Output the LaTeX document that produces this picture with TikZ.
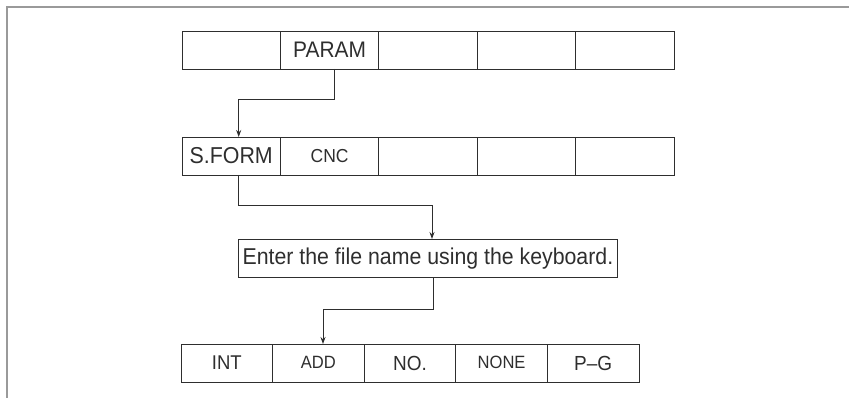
\documentclass[tikz,border=0pt]{standalone}
\usepackage{fontspec}
\setmainfont[FakeStretch=0.93]{Liberation Sans}
\usetikzlibrary{arrows.meta}
\definecolor{ink}{HTML}{2E2E2E}
\definecolor{framegray}{HTML}{9A9A9A}
\begin{document}
\begin{tikzpicture}[x=1pt,y=-1pt,
  cell/.style={draw=ink,line width=0.9pt,minimum height=38pt,inner sep=0pt,outer sep=0pt,text=ink,anchor=north west},
  topcell/.style={cell,minimum width=98.4pt},
  botcell/.style={cell,minimum width=91.6pt},
  conn/.style={draw=ink,line width=0.9pt},
  arr/.style={conn,-{Stealth[length=7pt,width=5pt]}},
  fs/.style={font=\fontsize{#1}{#1}\selectfont}
]
\useasboundingbox (0,0) rectangle (849,398);
\draw[framegray,line width=2.5pt] (7,398) -- (7,7) -- (849,7);
% top row
\node[topcell] (t1) at (182,31) {};
\node[topcell,fs=22.5] (param) at (280.4,31) {\raisebox{1pt}{PARAM}};
\node[topcell] (t3) at (378.8,31) {};
\node[topcell] (t4) at (477.2,31) {};
\node[topcell] (t5) at (575.6,31) {};
% second row
\node[topcell,fs=23] (sform) at (182,137) {S.FORM};
\node[topcell,fs=18.8] (cnc) at (280.4,137) {\raisebox{1pt}{CNC}};
\node[topcell] (s3) at (378.8,137) {};
\node[topcell] (s4) at (477.2,137) {};
\node[topcell] (s5) at (575.6,137) {};
% message
\node[draw=ink,line width=0.9pt,minimum height=38pt,minimum width=379pt,inner sep=0pt,anchor=north west,text=ink,fs=22.9] (msg) at (238,239) {Enter the file name using the keyboard.};
% bottom row
\node[botcell,fs=19.9] (int) at (181,344) {INT};
\node[botcell,fs=17.8] (add) at (272.6,344) {\raisebox{2pt}{ADD}};
\node[botcell,fs=20.4] (no) at (364.2,344) {NO.};
\node[botcell,fs=17.8] (none) at (455.8,344) {\raisebox{2pt}{NONE}};
\node[botcell,fs=20.4] (pg) at (547.4,344) {P--G};
% connectors
\coordinate (c1) at (334,99);
\coordinate (c2) at (238.7,99);
\draw[arr] (param.south -| c1) -- (c1) -- (c2) -- (c2 |- sform.north);
\coordinate (c3) at (238.7,205);
\coordinate (c4) at (432,205);
\draw[arr] (sform.south -| c3) -- (c3) -- (c4) -- (c4 |- msg.north);
\coordinate (c5) at (433,309);
\coordinate (c6) at (323,309);
\draw[arr] (msg.south -| c5) -- (c5) -- (c6) -- (c6 |- add.north);
\end{tikzpicture}
\end{document}
